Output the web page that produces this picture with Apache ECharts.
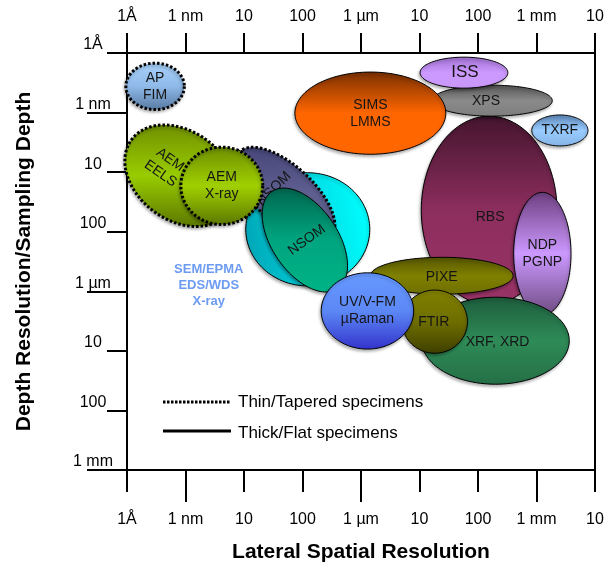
<!DOCTYPE html>
<html><head><meta charset="utf-8">
<script src="https://cdn.jsdelivr.net/npm/echarts@6/dist/echarts.min.js"></script>
<style>html,body{margin:0;padding:0;background:#fff}#c{width:608px;height:570px}</style>
</head><body><div id="c"></div>
<script>
// ---- tick labels (axes are log10 of metres) ----
const xTickLabels = ['1Å', '1 nm', '10', '100', '1 µm', '10', '100', '1 mm', '10'];
const yTickLabels = ['1Å', '1 nm', '10', '100', '1 µm', '10', '100', '1 mm'];
const majorDecades = [-9, -6, -3];

// ---- techniques, in drawing order ----
const techniques = ['SEM/EPMA\nEDS/WDS\nX-ray', 'NSOM', 'AEM\nEELS', 'AEM\nX-ray', 'NSOM', 'AP\nFIM',
  'RBS', 'XPS', 'ISS', 'SIMS\nLMMS', 'TXRF', 'NDP\nPGNP', 'PIXE', 'XRF, XRD', 'FTIR', 'UV/V-FM\nµRaman'];
// centre of each region, log10(m)
const lateralCenter = [-6.91, -7.30, -9.09, -8.38, -6.96, -9.52, -3.81, -3.76, -4.24, -5.84, -2.60, -2.90, -4.62, -3.70, -4.74, -5.89];
const depthCenter   = [-7.04, -7.62, -7.94, -7.77, -6.86, -9.44, -7.36, -9.20, -9.67, -8.99, -8.70, -6.63, -6.26, -5.17, -5.49, -5.67];
// half extents in decades (along the tilted lateral / depth directions)
const lateralHalf = [1.06, 1.06, 1.03, 0.70, 0.99, 0.50, 1.16, 1.03, 0.75, 1.29, 0.48, 0.49, 1.22, 1.26, 0.56, 0.79];
const depthHalf   = [0.95, 0.49, 0.75, 0.65, 0.56, 0.39, 1.58, 0.26, 0.26, 0.69, 0.26, 1.03, 0.31, 0.73, 0.53, 0.64];
const tiltDeg     = [0, 42, 35, 0, 55, 0, 0, 0, 0, 0, 0, 0, 0, 0, 0, 0];
const specimen    = ['thick', 'thin', 'thin', 'thin', 'thick', 'thin', 'thick', 'thick', 'thick', 'thick', 'thick', 'thick', 'thick', 'thick', 'thick', 'thick'];

// ---- styles ----
const fills = [
  ['#00a6b6', '#00d6e0', '#00ffff'],
  ['#46467a', '#5f5f90', '#55557f'],
  ['#6f8f00', '#99cc00', '#5a7500'],
  ['#6b8c00', '#a0d000', '#5a7500'],
  ['#00664f', '#00a57f', '#00b386'],
  ['#a9d3fb', '#8fb9e8', '#56779f'],
  ['#45152e', '#8c2e5e', '#993366'],
  ['#555555', '#8a8a8a', '#7d7d7d'],
  ['#9f70d0', '#cc99ff', '#c996f8'],
  ['#7a3000', '#ff6600', '#ff6600'],
  ['#5c87b8', '#99ccff', '#86b3e6'],
  ['#6d3f80', '#cc99ff', '#6d4a80'],
  ['#555500', '#808000', '#6e6e00'],
  ['#1d5c3c', '#2e8b57', '#256f46'],
  ['#808000', '#6e6e00', '#3f3f00'],
  ['#6699ff', '#5c88f5', '#3333cc']
];
const labelLayout = [
  {dx: -99, dy: 56, rot: 0, size: 13, color: '#6d9bf1', bold: true},
  {dx: -11, dy: -6, rot: 45, size: 14},
  {dx: -15, dy: -9, rot: -35, size: 14},
  {dx: 0, dy: 0, rot: 0, size: 14},
  {dx: 2, dy: 0, rot: 36, size: 14},
  {dx: 0, dy: 0, rot: 0, size: 14},
  {dx: 1, dy: 7, rot: 0, size: 14},
  {dx: -6, dy: 0, rot: 0, size: 14},
  {dx: 1, dy: 0, rot: 0, size: 17},
  {dx: 0, dy: 0, rot: 0, size: 14},
  {dx: 0, dy: 0, rot: 0, size: 14},
  {dx: 0, dy: 0, rot: 0, size: 14},
  {dx: 0, dy: 1, rot: 0, size: 14},
  {dx: 2, dy: 1, rot: 0, size: 14},
  {dx: -1, dy: 0, rot: 0, size: 14},
  {dx: 0, dy: 0, rot: 0, size: 14}
];

const FONT = 'Liberation Sans, Arial, sans-serif';
const chart = echarts.init(document.getElementById('c'), null, {renderer: 'canvas'});

function renderItem(params, api) {
  const i = params.dataIndex;
  const cx = api.value(0), cy = api.value(1), hw = api.value(2), hh = api.value(3);
  const t = api.value(4) * Math.PI / 180;
  const pts = [];
  const N = 120;
  for (let k = 0; k < N; k++) {
    const p = 2 * Math.PI * k / N;
    const dx = hw * Math.cos(p), dy = hh * Math.sin(p);
    pts.push(api.coord([cx + dx * Math.cos(t) - dy * Math.sin(t), cy + dx * Math.sin(t) + dy * Math.cos(t)]));
  }
  const c = api.coord([cx, cy]);
  const f = fills[i];
  const horiz = i === 0;
  const thin = specimen[i] === 'thin';
  const L = labelLayout[i];
  return {
    type: 'group',
    children: [
      {
        type: 'polygon',
        shape: {points: pts},
        style: {
          fill: {type: 'linear', x: 0, y: horiz ? 0.6 : 0, x2: horiz ? 1 : 0, y2: horiz ? 0.4 : 1,
            colorStops: [{offset: 0, color: f[0]}, {offset: 0.5, color: f[1]}, {offset: 1, color: f[2]}]},
          stroke: '#000',
          lineWidth: thin ? 3 : 1,
          lineDash: thin ? [2.5, 2] : null,
          shadowBlur: 3, shadowOffsetX: -1, shadowOffsetY: 2, shadowColor: 'rgba(0,0,0,0.3)'
        }
      },
      {
        type: 'text',
        x: c[0] + L.dx, y: c[1] + L.dy,
        rotation: L.rot * Math.PI / 180,
        style: {
          text: techniques[i], fill: L.color || '#151515',
          font: (L.bold ? 'bold ' : '') + L.size + 'px ' + FONT,
          align: 'center', verticalAlign: 'middle', lineHeight: L.bold ? 16 : 17
        }
      }
    ]
  };
}

const lineCol = '#000';
const baseX = {
  type: 'value', min: -10, max: -2, interval: 1, splitLine: {show: false}
};
const baseY = {
  type: 'value', min: -10, max: -3, interval: 1, inverse: true, splitLine: {show: false}
};

chart.setOption({
  animation: false,
  grid: {left: 127, right: 13, top: 53, bottom: 100, containLabel: false, outerBoundsMode: 'none'},
  xAxis: [
    Object.assign({}, baseX, {
      position: 'bottom',
      axisLine: {show: true, onZero: false, lineStyle: {color: lineCol, width: 2}},
      axisTick: {show: true, length: 22, lineStyle: {color: lineCol, width: 2}},
      axisLabel: {formatter: v => xTickLabels[Math.round(v + 10)], margin: 42, fontSize: 16, color: '#000',
        fontFamily: FONT, showMinLabel: true, showMaxLabel: true},
      name: 'Lateral Spatial Resolution', nameLocation: 'middle', nameGap: 72,
      nameTextStyle: {fontSize: 21, fontWeight: 'bold', color: '#000', fontFamily: FONT}
    }),
    Object.assign({}, baseX, {
      position: 'top',
      axisLine: {show: true, onZero: false, lineStyle: {color: lineCol, width: 2}},
      axisTick: {show: true, length: 20, lineStyle: {color: lineCol, width: 2}},
      axisLabel: {formatter: v => xTickLabels[Math.round(v + 10)], margin: 28, fontSize: 16, color: '#000',
        fontFamily: FONT, showMinLabel: true, showMaxLabel: true}
    }),
    Object.assign({}, baseX, {
      position: 'bottom',
      axisLine: {show: false, onZero: false},
      axisTick: {show: true, length: 32, customValues: majorDecades, lineStyle: {color: lineCol, width: 2}},
      axisLabel: {show: false}
    })
  ],
  yAxis: [
    Object.assign({}, baseY, {
      position: 'left',
      axisLine: {show: true, onZero: false, lineStyle: {color: lineCol, width: 2}},
      axisTick: {show: true, length: 20, lineStyle: {color: lineCol, width: 2}},
      axisLabel: {formatter: v => yTickLabels[Math.round(v + 10)], margin: 34, fontSize: 16, color: '#000',
        fontFamily: FONT, align: 'center', verticalAlign: 'bottom', lineHeight: 16,
        showMinLabel: true, showMaxLabel: true},
      name: 'Depth Resolution/Sampling Depth', nameLocation: 'middle', nameGap: 92, nameRotate: 90,
      nameTextStyle: {fontSize: 21, fontWeight: 'bold', color: '#000', fontFamily: FONT}
    }),
    Object.assign({}, baseY, {
      position: 'left',
      axisLine: {show: false, onZero: false},
      axisTick: {show: true, length: 40, customValues: majorDecades, lineStyle: {color: lineCol, width: 2}},
      axisLabel: {show: false}
    }),
    Object.assign({}, baseY, {
      position: 'right',
      axisLine: {show: true, onZero: false, lineStyle: {color: lineCol, width: 2}},
      axisTick: {show: false},
      axisLabel: {show: false}
    })
  ],
  graphic: [
    {type: 'line', shape: {x1: 163, y1: 402, x2: 230, y2: 402}, style: {stroke: '#000', lineWidth: 3, lineDash: [2.5, 1.5]}},
    {type: 'text', x: 238, y: 402, style: {text: 'Thin/Tapered specimens', font: '17px ' + FONT, fill: '#000', verticalAlign: 'middle'}},
    {type: 'line', shape: {x1: 163, y1: 431, x2: 231, y2: 431}, style: {stroke: '#000', lineWidth: 3}},
    {type: 'text', x: 238, y: 433, style: {text: 'Thick/Flat specimens', font: '17px ' + FONT, fill: '#000', verticalAlign: 'middle'}}
  ],
  series: [{
    type: 'custom',
    xAxisIndex: 0, yAxisIndex: 0,
    renderItem: renderItem,
    silent: true,
    clip: false,
    data: techniques.map((n, i) => [lateralCenter[i], depthCenter[i], lateralHalf[i], depthHalf[i], tiltDeg[i]])
  }]
});
</script>
</body></html>
